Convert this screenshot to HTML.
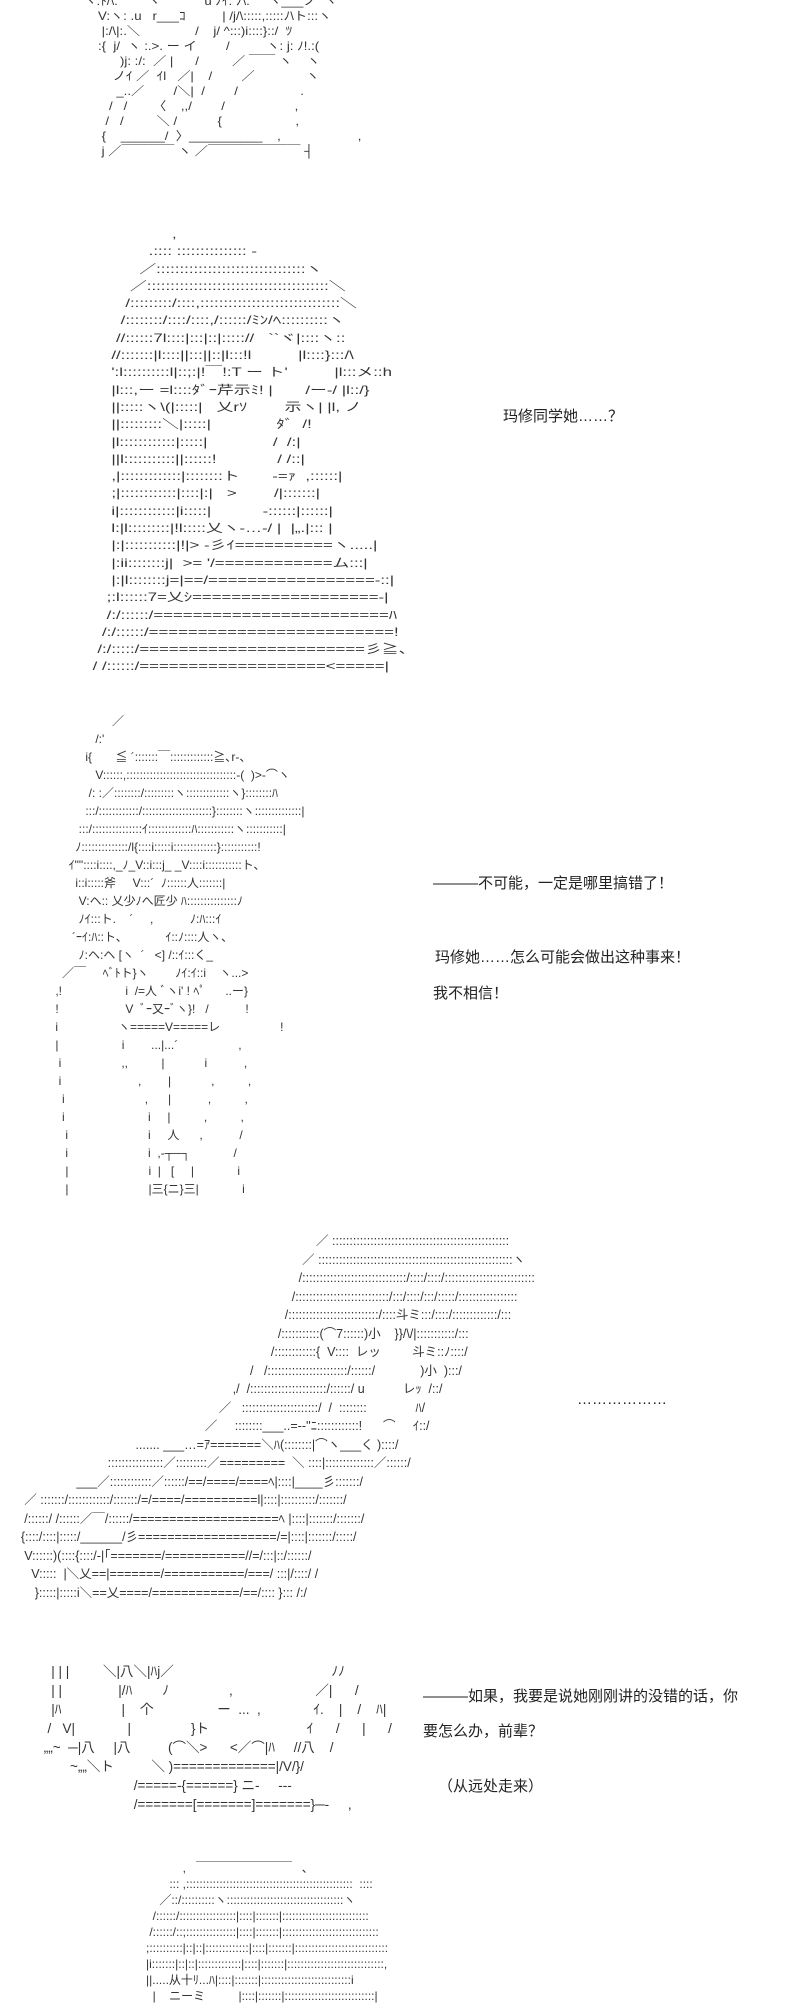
<!DOCTYPE html>
<html><head><meta charset="utf-8">
<style>
html,body{margin:0;padding:0;background:#fff;}
body{width:800px;height:2000px;position:relative;overflow:hidden;}
.aa{position:absolute;white-space:pre;font-family:"Liberation Sans","Noto Sans CJK JP",sans-serif;font-size:12px;color:#333;letter-spacing:0;transform-origin:0 0;}
.t{position:absolute;white-space:nowrap;font-family:"Liberation Sans","Noto Sans CJK SC",sans-serif;font-size:15px;color:#222;}
</style></head><body>

<div class="aa" style="left:76px;top:-6px;line-height:15px;transform:scaleX(1.1);">  ヽ:ﾄ/\:        ヽ            u ﾉｲ: ﾉ\:     ヽ___ノ  ヽ
      V:ヽ: .u   r___ｺ          | /j/\:::::,:::::ﾉ\ト:::ヽ
       |:/\|:.＼               /    j/ ^:::)i::::}::/  ﾂ
      :{  j/  ヽ :.>. ー イ        /          ヽ: j: ﾉ!.:(
            )j: :/:  ／ |      /         ／ ￣￣ ヽ    ヽ
          ノｲ ／  ｲl   ／|    /        ／              ヽ
           _..／        /＼|  /        /                 .
         /   /       〈    ,,/        /                   ,
        /   /         ＼ /           {                    ,
       {    ______/  〉__________    ,                     ,
       j ／￣￣￣￣ ヽ ／￣￣￣￣￣￣￣ ┤</div>

<div class="aa" style="left:88px;top:226px;line-height:17.3px;transform:scaleX(1.4);">                  ,
             .:::: ::::::::::::::: -
           ／::::::::::::::::::::::::::::::::ヽ
         ／:::::::::::::::::::::::::::::::::::::::＼
        /:::::::::/::::,::::::::::::::::::::::::::::::＼
       /::::::::/::::/::::,/::::::/ﾐﾝ/ﾍ::::::::::ヽ
      //::::::7l::::|:::|::|::::://   ``ヾ|::::ヽ::
     //:::::::|l::::||:::||::|l:::!l          |l::::}:::/\
     ':l::::::::::l|::;:|!￣!:T ー ト'          |l:::メ::h
     |l:::,ー =l::::ﾀﾞｰ芹示ﾐ! |       /ー-/ |l::/}
     ||:::::ヽ\(|:::::|   乂rｿ        示ヽ| |l, ノ
     ||:::::::::＼|:::::|              ﾀﾞ  /!
     |l::::::::::::|:::::|              /  /:|
     ||l:::::::::::||::::::!             / /::|
     ,|:::::::::::::|::::::::ト       -=ｧ  ,::::::|
     ;|::::::::::::|::::|:|   >        /|:::::::|
     i|::::::::::::|i:::::|           -::::::|::::::|
     l:|l:::::::::|!l:::::乂ヽ-…-/ |  |„.|::: |
     |:|:::::::::::|!|> -彡ｲ==========ヽ.....|
     |:ii::::::::j|  >= '/============ム:::|
     |:|l::::::::j=|==/=================-::|
    ;:l::::::7=乂ｼ===================-|
    /:/::::::/========================ﾊ
   /:/::::::/=========================!
  /:/:::::/=======================彡≧、
 / /::::::/===================<=====|</div>

<div class="t" style="left:503px;top:405px;">玛修同学她……？</div>

<div class="aa" style="left:22px;top:712px;line-height:18px;">                           ／
                      /:'
                   i{       ≦ ´:::::::￣:::::::::::::≧､r‐、
                      V::::::,:::::::::::::::::::::::::::::::::-(  )>‐⌒ヽ
                    /: :／::::::::/:::::::::ヽ:::::::::::::ヽ}::::::::ﾊ
                   :::/::::::::::::/:::::::::::::::::::::}::::::::ヽ::::::::::::::|
                 :::/:::::::::::::::ｲ:::::::::::::ﾊ:::::::::::ヽ:::::::::::|
                ﾉ::::::::::::::/l{::::i:::::i:::::::::::::}:::::::::::!
              ｲ""::::i::::,_ﾉ_V::i:::j_ _V::::i:::::::::::ト､
                i::i:::::斧     V:::´  ﾉ::::::人:::::::|
                 V:ヘ:: 乂少ﾉへ匠少 ﾊ:::::::::::::::ﾉ
                 ﾉｲ:::ト.    ´     ,           ﾉ:ﾊ:::ｲ
               ´ｰｲ:ﾊ::ト､             ｲ::ﾉ::::人ヽ､
                 ﾉ:ヘ:ヘ [ヽ  ´   <] /::ｲ:::く_
            ／￣     ﾍﾞﾄト}ヽ        ﾉｲ:ｲ::i    ヽ...>
          ,!                   i  /=人 ﾞヽi' ! ﾍﾟ      ..ー}
          !                    V  ﾞｰ又ｰﾞヽ}!   /           !
          i                  ヽ=====V=====レ                  !
          |                   i        ...|...´                  ,
           i                  ,,          |            i           ,
           i                       ,        |            ,          ,
            i                        ,      |           ,          ,
            i                         i     |          ,          ,
             i                        i     人      ,           /
             i                        i  ,-┬─┐             /
             |                        i  |   [     |             i
             |                        |三{ニ}三|             i</div>

<div class="t" style="left:433px;top:872px;">———不可能，一定是哪里搞错了！</div>
<div class="t" style="left:435px;top:946px;">玛修她……怎么可能会做出这种事来！</div>
<div class="t" style="left:433px;top:982px;">我不相信！</div>

<div class="aa" style="left:0px;top:1232px;line-height:18.5px;font-size:12.5px;">                                                                                           ／ :::::::::::::::::::::::::::::::::::::::::::::::::::
                                                                                       ／ ::::::::::::::::::::::::::::::::::::::::::::::::::::::::ヽ
                                                                                      /::::::::::::::::::::::::::::::/::::/::::/::::::::::::::::::::::::::
                                                                                    /:::::::::::::::::::::::::::/:::/::::/:::/:::::/:::::::::::::::::
                                                                                  /::::::::::::::::::::::::::/::::斗ミ:::/::::/:::::::::::::/:::
                                                                                /:::::::::::(⌒7::::::)小    }}/\/|:::::::::::/:::
                                                                              /::::::::::::{  V::::  レッ         斗ミ::ﾉ::::/
                                                                        /   /:::::::::::::::::::::::/::::::/             )小  ):::/
                                                                   ,/  /::::::::::::::::::::::/::::::/ u           レｯ  /::/
                                                               ／   ::::::::::::::::::::::/  /  ::::::::              ﾊ/
                                                           ／     ::::::::___..=--''ﾆ::::::::::::!      ⌒     ｲ::/
                                       ....... ___…=ｱ=======＼ﾊ(::::::::|⌒ヽ___く )::::/
                               ::::::::::::::::／:::::::::／=========  ＼ ::::|::::::::::::::／::::::/
                      ___／::::::::::::／::::::/==/====/====ﾍ|::::|____彡:::::::/
       ／ :::::::/::::::::::::/:::::::/=/====/==========l|::::|::::::::::/:::::::/
       /::::::/ /::::::／￣/::::::/====================ﾍ |::::|:::::::/:::::::/
      {::::/::::|:::::/______/彡===================/=|::::|:::::::/:::::/
       V::::::)(::::{::::/-|｢=======/===========//=/:::|::/::::::/
         V:::::  |＼乂==|=======/===========/===/ :::|/::::/ /
          }:::::|:::::i＼==乂====/============/==/:::: }::: /:/</div>

<div class="t" style="left:577px;top:1391px;">………………</div>

<div class="aa" style="left:40px;top:1662px;line-height:19px;font-size:13.5px;">   | | |         ＼|八＼|ﾊj／                                          ﾉﾉ
   | |               |/ﾊ        ﾉ                ,                      ／|      /
   |ﾊ                |    个                 ー  ...  ,              ｲ.    |    /    ﾊ|
  /   V|              |                }ト                          ｲ      /      |      /
 „„~  ─|八     |八          (⌒＼>      <／⌒|ﾊ     //八    /
        ~„„＼ト          ＼ )=============|/V/}/
                         /=====-{======} ニ-     ---
                         /=======[=======]=======}─-     ,</div>

<div class="t" style="left:423px;top:1685px;">———如果，我要是说她刚刚讲的没错的话，你</div>
<div class="t" style="left:423px;top:1720px;">要怎么办，前辈？</div>
<div class="t" style="left:438px;top:1775px;">（从远处走来）</div>

<div class="aa" style="left:126px;top:1860px;line-height:16px;">                 ,   ￣￣￣￣￣￣￣￣   ､
             ::: ,::::::::::::::::::::::::::::::::::::::::::::::::::  ::::
          ／::/::::::::::ヽ:::::::::::::::::::::::::::::::::::ヽ
        /::::::/:::::::::::::::::|::::|:::::::|::::::::::::::::::::::::::
       /::::::/::;:::::::::::::::|::::|:::::::|:::::::::::::::::::::::::::::
      ;::::::::::|::|::|:::::::::::::|::::|:::::::|::::::::::::::::::::::::::::
      |i:::::::|::|::|:::::::::::::|::::|:::::::|:::::::::::::::::::::::::::::,
      ||.....从十ﾘ...ﾊ|::::|:::::::|:::::::::::::::::::::::::::i
        |    ニーミ          |::::|:::::::|:::::::::::::::::::::::::::|</div>

</body></html>
